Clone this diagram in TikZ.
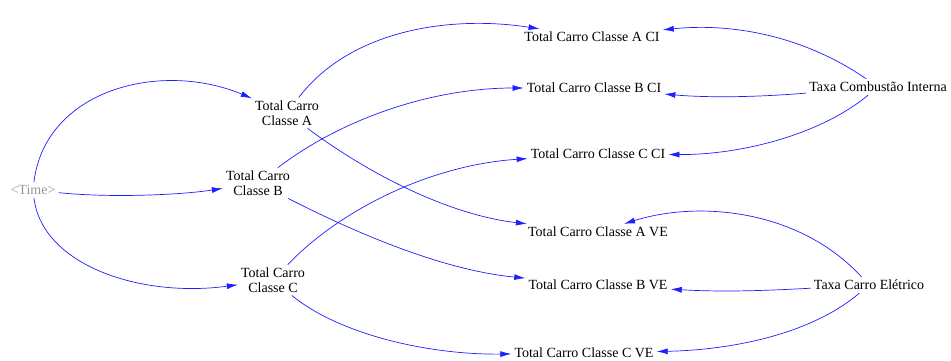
\documentclass[tikz,border=0pt]{standalone}
\usepackage{fontspec}
\setmainfont{Liberation Serif}
\usetikzlibrary{arrows.meta}
\begin{document}
\begin{tikzpicture}[x=1pt,y=1pt,
  lbl/.style={font=\fontsize{14}{14.5}\selectfont, inner sep=3pt, align=center},
  link/.style={draw={rgb,255:red,30;green,30;blue,255}, line width=0.7pt,
    -{Latex[length=11pt,width=6pt]}}]
\useasboundingbox (0,0) rectangle (951,360);
\node[lbl, text={rgb,255:red,150;green,150;blue,150}] (Time) at (33,170) {<Time>};
\node[lbl] (A) at (287,247) {Total Carro\\Classe A};
\node[lbl] (B) at (258,177) {Total Carro\\Classe B};
\node[lbl] (C) at (273,80) {Total Carro\\Classe C};
\node[lbl] (ACI) at (592,323) {Total Carro Classe A CI};
\node[lbl] (BCI) at (594,272) {Total Carro Classe B CI};
\node[lbl] (CCI) at (598,206) {Total Carro Classe C CI};
\node[lbl] (AVE) at (598,128) {Total Carro Classe A VE};
\node[lbl] (BVE) at (598,75) {Total Carro Classe B VE};
\node[lbl] (CVE) at (584,7) {Total Carro Classe C VE};
\node[lbl] (TCI) at (878,273) {Taxa Combustão Interna};
\node[lbl] (TCE) at (869,75) {Taxa Carro Elétrico};
\path[link] (Time) .. controls (45,270) and (160,300) .. (A);
\path[link] (Time) .. controls (110,162) and (180,165) .. (B);
\path[link] (Time) .. controls (42,95) and (140,62) .. (C);
\path[link] (A) .. controls (350,330) and (450,345) .. (ACI);
\path[link] (A) .. controls (370,185) and (450,145) .. (AVE);
\path[link] (B) .. controls (340,240) and (430,272) .. (BCI);
\path[link] (B) .. controls (350,130) and (440,90) .. (BVE);
\path[link] (C) .. controls (340,150) and (430,195) .. (CCI);
\path[link] (C) .. controls (340,25) and (430,5) .. (CVE);
\path[link] (TCI) .. controls (810,320) and (740,338) .. (ACI);
\path[link] (TCI) .. controls (760,263) and (710,262) .. (BCI);
\path[link] (TCI) .. controls (820,225) and (740,205) .. (CCI);
\path[link] (TCE) .. controls (800,150) and (700,160) .. (AVE);
\path[link] (TCE) .. controls (760,69) and (720,68) .. (BVE);
\path[link] (TCE) .. controls (810,25) and (730,10) .. (CVE);
\end{tikzpicture}
\end{document}
